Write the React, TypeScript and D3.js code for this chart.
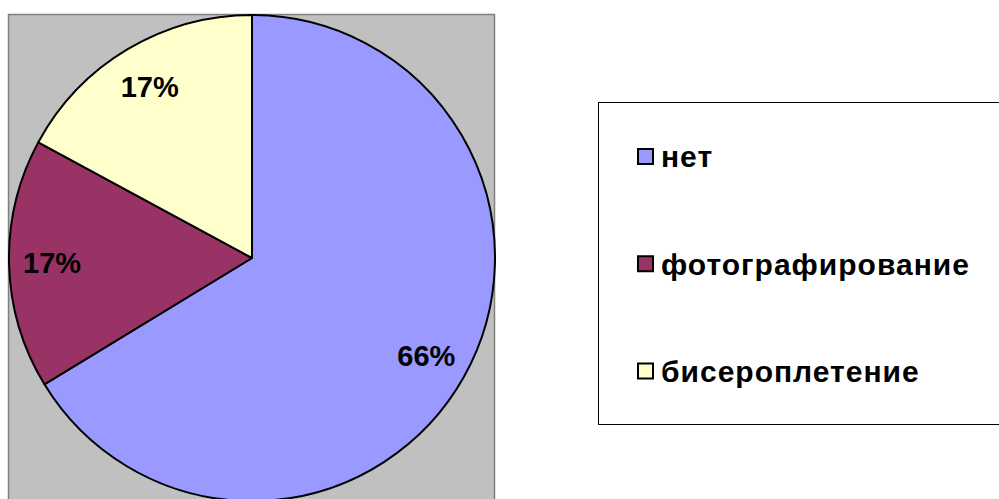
import React from "react";
import * as d3 from "d3";

const categories = ["нет", "фотографирование", "бисероплетение"];
const values = [66.3, 16.6, 17.1];
const colors = ["#9999FF", "#993366", "#FFFFCC"];

const W = 999;
const H = 499;
const FONT = "Arial, 'Liberation Sans', sans-serif";

export default function App() {
  const cx = 252;
  const cy = 258;
  const r = 243;
  const total = d3.sum(values);
  const pie = d3.pie<number>().sort(null).value((d) => d).startAngle(0).endAngle(2 * Math.PI);
  const arcs = pie(values);
  const arc = d3.arc<d3.PieArcDatum<number>>().innerRadius(0).outerRadius(r);
  const labelArc = d3.arc<d3.PieArcDatum<number>>().innerRadius(200).outerRadius(200);
  const legendY = d3.scalePoint<string>().domain(categories).range([156.5, 371]);

  return (
    <svg width={W} height={H} style={{ position: "absolute", left: 0, top: 0 }}>
      <rect x={0} y={0} width={W} height={H} fill="#ffffff" />
      <rect x={8.5} y={14.5} width={486} height={H} fill="#C0C0C0" stroke="#808080" strokeWidth={1.5} />
      <g transform={`translate(${cx},${cy})`}>
        {arcs.map((a, i) => (
          <path key={i} d={arc(a) || ""} fill={colors[i]} stroke="#000" strokeWidth={2} strokeLinejoin="round" />
        ))}
        {arcs.map((a, i) => {
          const [lx, ly] = labelArc.centroid(a);
          return (
            <text key={i} x={lx} y={ly} dy="0.36em" textAnchor="middle" fontFamily={FONT} fontWeight="bold" fontSize={29} fill="#000">
              {Math.round((a.data / total) * 100)}%
            </text>
          );
        })}
      </g>
      <rect x={598.5} y={102.5} width={420} height={322} fill="#ffffff" stroke="#000" strokeWidth={1} />
      {categories.map((c, i) => {
        const y = legendY(c) as number;
        return (
          <g key={c}>
            <rect x={638} y={y - 7.5} width={15} height={15} fill={colors[i]} stroke="#000" strokeWidth={2} />
            <text x={661} y={y} dy="0.36em" fontFamily={FONT} fontWeight="bold" fontSize={30} letterSpacing={1} fill="#000">
              {c}
            </text>
          </g>
        );
      })}
    </svg>
  );
}
